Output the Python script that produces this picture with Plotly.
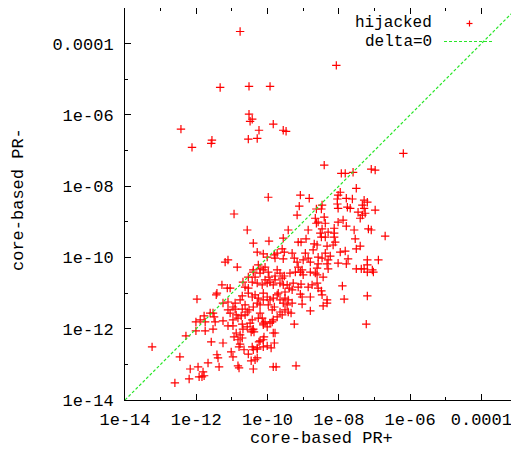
import plotly.graph_objects as go

# Values, stored as log10 exponents (value = 10**exp)
# Group A: upper outliers and upper-right cluster
a_pr_plus_exp = [-10.77,-8.07,-11.33,-10.52,-9.93,-10.52,-10.49,-10.43,-9.84,-12.43,-10.24,-9.56,-9.48,-11.56,-11.58,-10.54,-10.29,-12.12,-6.19,-8.41,
                 -7.93,-7.82,-7.60,-7.09,-6.98,-7.51,-9.98,-9.08,-8.83,-7.96,-8.02,-8.04,-7.79,-7.62,-7.29,-7.20,-7.34,-10.94,-9.11,-8.47,
                 -8.49,-8.04,-8.02,-7.76,-7.68,-7.29,-7.26,-7.34,-6.98,-7.46,-9.17,-8.63,-8.66,-8.58,-8.63,-8.41,-8.38,-8.02,-7.88,-7.79]
a_pr_minus_exp = [-3.66,-4.61,-5.23,-5.20,-5.20,-5.98,-6.18,-6.12,-6.26,-6.40,-6.43,-6.43,-6.46,-6.71,-6.80,-6.68,-6.66,-6.91,-7.08,-7.41,
                  -7.64,-7.64,-7.61,-7.52,-7.55,-8.06,-8.31,-8.25,-8.34,-8.17,-8.25,-8.36,-8.34,-8.36,-8.39,-8.45,-8.53,-8.78,-8.56,-8.53,
                  -8.64,-8.50,-8.62,-8.59,-8.62,-8.62,-8.76,-8.81,-8.67,-8.73,-8.81,-8.64,-8.90,-9.01,-9.04,-8.87,-9.04,-9.01,-8.95,-9.12]

# Group B: middle-right cluster
b_pr_plus_exp = [-7.40,-8.47,-8.52,-8.49,-8.30,-8.38,-8.86,-9.42,-8.13,-8.13,-8.13,-8.10,-8.16,-7.57,-7.54,-7.17,-7.09,-6.70,-9.14,-9.06,
                 -8.92,-8.69,-8.61,-8.72,-8.33,-7.96,-7.82,-7.51,-7.40,-9.31,-9.25,-9.17,-8.94,-8.86,-9.00,-8.80,-8.58,-8.47,-8.38,-8.30,
                 -8.24,-8.33,-8.58,-8.61,-8.02,-7.79,-7.74,-7.20,-7.20,-6.89,-7.51,-7.37,-7.29,-7.06,-8.30,-9.14,-9.03,-9.22,-9.00,-8.80,
                 -8.66,-8.44]
b_pr_minus_exp = [-8.90,-9.20,-9.32,-9.43,-9.29,-9.43,-9.23,-9.23,-9.18,-9.32,-9.43,-9.57,-9.65,-9.23,-9.48,-9.20,-9.23,-9.40,-9.57,-9.57,
                  -9.48,-9.62,-9.65,-9.79,-9.68,-9.85,-9.82,-9.76,-9.68,-9.88,-10.02,-10.13,-9.88,-10.02,-10.07,-10.13,-9.99,-10.02,-9.88,-10.07,
                  -9.96,-10.18,-10.18,-10.30,-10.16,-10.18,-10.04,-10.07,-10.21,-10.07,-10.32,-10.32,-10.32,-10.35,-10.32,-10.27,-10.35,-10.41,-10.49,-10.41,
                  -10.44,-10.55]

# Group C: central band
c_pr_plus_exp = [-10.57,-10.40,-9.96,-10.29,-9.56,-11.19,-11.11,-10.85,-10.12,-10.01,-9.81,-9.73,-9.79,-9.59,-9.53,-9.56,-10.26,-10.21,-10.07,-10.12,
                 -10.40,-10.54,-10.35,-9.96,-9.79,-9.73,-9.65,-9.59,-9.53,-7.20,-7.03,-7.90,-7.20,-7.85,-8.33,-8.33,-8.44,-8.80,-9.03,-9.25,
                 -7.23,-9.20,-9.84,-9.76,-8.80,-8.49,-8.47,-9.34,-9.42,-9.31,-9.42,-9.45,-9.08,-9.03,-9.14,-9.06,-8.86,-8.75,-8.61,-8.58,
                 -9.45,-9.39,-9.31,-9.28,-9.51]
c_pr_minus_exp = [-9.23,-9.60,-9.54,-9.85,-9.46,-10.13,-10.07,-10.27,-9.90,-9.99,-9.93,-9.88,-10.02,-9.76,-9.85,-10.04,-10.21,-10.32,-10.27,-10.35,
                  -10.35,-10.55,-10.55,-10.55,-10.52,-10.35,-10.44,-10.58,-10.52,-10.41,-10.41,-10.80,-11.08,-11.17,-11.19,-11.28,-11.36,-11.50,-11.31,-11.87,
                  -11.87,-13.04,-13.07,-13.07,-11.11,-10.94,-11.05,-11.56,-11.53,-11.28,-11.19,-11.33,-11.03,-11.11,-10.83,-10.75,-10.83,-10.77,-10.72,-10.86,
                  -10.77,-10.86,-10.91,-10.72,-10.97]

# Group D: lower-left cluster and tail
d_pr_plus_exp = [-13.24,-12.60,-12.20,-12.46,-11.98,-12.29,-12.01,-11.75,-11.75,-11.53,-11.61,-11.53,-11.47,-11.50,-11.58,-11.67,-11.92,-11.84,-11.81,-11.78,
                 -11.42,-11.39,-11.36,-11.25,-11.02,-10.97,-10.80,-10.35,-10.40,-11.28,-11.13,-11.05,-11.42,-10.69,-10.63,-10.54,-10.43,-10.29,-10.15,-10.01,
                 -9.93,-9.79,-9.65,-9.56,-11.44,-11.25,-11.11,-10.91,-10.97,-11.78,-11.89,-12.01,-11.25,-11.11,-10.91,-10.71,-11.11,-10.97,-10.71,-10.69,
                 -10.57,-10.49,-10.43,-10.38,-10.88,-10.77,-10.94,-10.83,-10.77,-10.24,-10.12,-10.10,-10.01,-10.54,-10.46,-10.29,-10.40,-10.29,-10.83,-12.17,
                 -11.95,-9.79,-9.81,-9.90,-10.12,-10.29,-10.43,-10.21,-9.84,-10.40,-10.46,-9.93,-9.87]
d_pr_minus_exp = [-12.51,-13.52,-13.41,-12.79,-11.17,-12.20,-12.06,-12.06,-11.81,-12.01,-11.56,-11.56,-11.81,-11.67,-12.37,-12.96,-13.35,-13.35,-13.21,-13.32,
                  -12.73,-12.82,-13.07,-12.40,-12.65,-12.79,-13.10,-12.87,-13.13,-10.77,-10.86,-10.86,-11.00,-10.69,-10.83,-10.86,-10.69,-10.72,-10.77,-10.72,
                  -10.69,-10.63,-10.72,-10.77,-11.05,-11.28,-11.25,-11.28,-11.39,-11.64,-11.75,-11.81,-11.78,-11.47,-11.45,-11.45,-11.92,-11.92,-11.87,-12.01,
                  -11.95,-11.84,-12.03,-12.09,-12.12,-12.17,-12.23,-12.31,-12.43,-12.37,-12.31,-12.23,-12.48,-12.71,-12.90,-12.82,-12.59,-12.54,-13.04,-13.13,
                  -13.07,-12.12,-12.40,-12.54,-12.51,-12.57,-12.51,-12.34,-12.12,-12.01,-12.09,-11.84,-11.81]

# Group E: dense core
e_pr_plus_exp = [-10.54,-10.43,-10.35,-10.26,-10.29,-10.21,-10.12,-10.01,-9.93,-9.84,
                 -9.73,-9.65,-9.56,-10.21,-10.15,-10.12,-10.01,-9.73,-9.65,-9.87,
                 -9.81,-9.98,-10.88,-10.83,-10.74,-10.97,-10.40,-10.21,-9.98,-9.37,
                 -9.08,-8.61,-10.07,-9.84,-10.12,-9.70,-9.51,-10.40,-9.59,-10.43,
                 -10.26,-10.07,-9.84,-10.12,-10.77,-10.63,-10.57,-10.71,-9.51,-11.05,
                 -10.63,-10.52,-10.71,-10.80,-10.66]
e_pr_minus_exp = [-11.00,-11.11,-11.05,-11.14,-11.28,-11.33,-11.19,-11.11,-11.19,-11.14,
                  -11.05,-11.19,-11.28,-11.56,-11.70,-11.84,-11.95,-11.67,-11.53,-11.47,
                  -11.39,-11.33,-11.61,-11.70,-11.64,-11.75,-10.41,-10.44,-10.41,-10.44,
                  -10.41,-10.49,-10.63,-10.77,-11.00,-11.00,-11.14,-11.39,-11.61,-11.75,
                  -11.70,-11.81,-11.75,-11.89,-11.19,-11.33,-11.53,-11.08,-11.47,-11.56,
                  -11.61,-11.47,-12.26,-12.51,-12.59]

# axis ticks
tick_vals = [1e-14, 1e-12, 1e-10, 1e-8, 1e-6, 1e-4]
tick_text = ["1e-14", "1e-12", "1e-10", "1e-08", "1e-06", "0.0001"]
minor_vals = [1e-13, 1e-11, 1e-9, 1e-7, 1e-5, 1e-3]
axis_min, axis_max = 1e-14, 1e-3

plus_exp = a_pr_plus_exp + b_pr_plus_exp + c_pr_plus_exp + d_pr_plus_exp + e_pr_plus_exp
minus_exp = a_pr_minus_exp + b_pr_minus_exp + c_pr_minus_exp + d_pr_minus_exp + e_pr_minus_exp
pr_plus = [10 ** v for v in plus_exp]
pr_minus = [10 ** v for v in minus_exp]

FONT = "Liberation Mono"
FS = 17
LEG_FS = 16
RED = "rgb(255,0,0)"
GREEN = "rgb(40,230,40)"

fig = go.Figure()
fig.add_trace(go.Scatter(
    x=pr_plus, y=pr_minus, mode="markers", name="hijacked",
    marker=dict(symbol="cross-thin", size=6, line=dict(color=RED, width=1.2), color=RED),
))
fig.add_trace(go.Scatter(
    x=[axis_min, axis_max], y=[axis_min, axis_max], mode="lines", name="delta=0",
    line=dict(color=GREEN, width=1.2, dash="3px,2px"),
))

axis_common = dict(
    type="log", range=[-14, -3], tickmode="array", tickvals=tick_vals, ticktext=tick_text,
    ticks="inside", ticklen=6, tickwidth=1, tickcolor="black",
    showline=True, linecolor="black", linewidth=1, mirror="allticks",
    showgrid=False, zeroline=False, automargin=False,
    minor=dict(tickmode="array", tickvals=minor_vals, ticks="inside", ticklen=3,
               tickwidth=1, tickcolor="black", showgrid=False),
    tickfont=dict(family=FONT, size=FS, color="black"),
)
fig.update_xaxes(**axis_common, ticklabelstandoff=4)
fig.update_yaxes(**axis_common, ticklabelstandoff=7)

# page body has an 8px margin, so the figure starts at screen (8, 8);
# these helpers place decorations relative to the plot area (screen 125..517, 8..400)
def px_x(p):
    return (p - 125) / 392.0

def px_y(p):
    return (400 - p) / 392.0

annotations = [
    dict(text="core-based PR+", x=0.5, y=px_y(438), xref="paper", yref="paper",
         showarrow=False, xanchor="center", yanchor="middle", font=dict(family=FONT, size=FS)),
    dict(text="core-based PR-", x=px_x(18), y=px_y(200), xref="paper", yref="paper",
         showarrow=False, textangle=-90, xanchor="center", yanchor="middle", font=dict(family=FONT, size=FS)),
    dict(text="hijacked", x=px_x(433), y=px_y(23), xref="paper", yref="paper", borderpad=0,
         showarrow=False, xanchor="right", yanchor="middle", font=dict(family=FONT, size=LEG_FS)),
    dict(text="delta=0", x=px_x(433), y=px_y(41.8), xref="paper", yref="paper", borderpad=0,
         showarrow=False, xanchor="right", yanchor="middle", font=dict(family=FONT, size=LEG_FS)),
]
shapes = [
    dict(type="line", xref="paper", yref="paper", x0=px_x(466.5), x1=px_x(472.5), y0=px_y(23.5), y1=px_y(23.5),
         line=dict(color=RED, width=1.2)),
    dict(type="line", xref="paper", yref="paper", x0=px_x(469.5), x1=px_x(469.5), y0=px_y(20.5), y1=px_y(26.5),
         line=dict(color=RED, width=1.2)),
    dict(type="line", xref="paper", yref="paper", x0=px_x(444), x1=px_x(494), y0=px_y(41.5), y1=px_y(41.5),
         line=dict(color=GREEN, width=1.2, dash="3px,2px")),
]

fig.update_layout(
    width=511, height=449,
    margin=dict(l=117, r=2, t=0, b=57, autoexpand=False),
    plot_bgcolor="white", paper_bgcolor="white",
    showlegend=False,
    font=dict(family=FONT, size=FS, color="black"),
    annotations=annotations, shapes=shapes,
)

fig.write_html("out.html")
